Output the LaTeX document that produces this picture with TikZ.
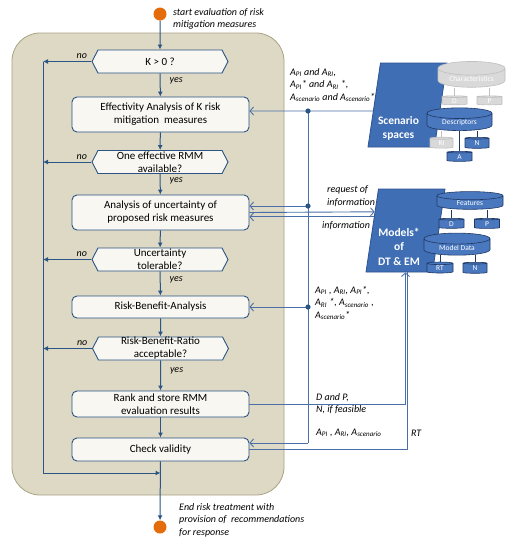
\documentclass[tikz,border=0pt]{standalone}
\usepackage{fontspec}
\setmainfont{Carlito}
\usetikzlibrary{shapes.geometric,shapes.symbols,arrows.meta,calc}
\definecolor{tanfill}{HTML}{DDD9C4}
\definecolor{tanline}{HTML}{A8A283}
\definecolor{boxfill}{HTML}{F8F7F1}
\definecolor{boxline}{HTML}{2B5385}
\definecolor{flowcol}{HTML}{2A5585}
\definecolor{infocol}{HTML}{4A6EA8}
\definecolor{parafill}{HTML}{3F6EB5}
\definecolor{paraline}{HTML}{2F528F}
\definecolor{dbfill}{HTML}{4A78BE}
\definecolor{dbline}{HTML}{203864}
\definecolor{greyfill}{HTML}{D9D9D9}
\definecolor{greyline}{HTML}{BFBFBF}
\definecolor{orangec}{HTML}{E46C0A}

\begin{document}
\begin{tikzpicture}[x=1pt,y=-1pt,
    box/.style={draw=boxline,fill=boxfill,rounded corners=5pt,line width=0.9pt,minimum width=177pt,align=center,inner xsep=2pt,inner ysep=0pt,font=\fontsize{11}{13}\selectfont},
    ask/.style={signal,signal to=east and west,signal pointer angle=125,draw=boxline,fill=boxfill,line width=0.9pt,minimum width=136pt,minimum height=23pt,align=center,inner sep=0pt,font=\fontsize{11}{13}\selectfont},
    flow/.style={draw=flowcol,line width=1pt,-{Latex[length=5pt,width=5pt]}},
    info/.style={draw=infocol,line width=0.9pt,-{Straight Barb[length=3.5pt,width=8pt]}},
    infoline/.style={draw=infocol,line width=0.9pt},
    lbl/.style={font=\fontsize{10}{12.5}\selectfont\itshape,inner sep=0pt,align=left},
    para/.style={trapezium,trapezium left angle=77,trapezium right angle=103,trapezium stretches=true,fill=parafill,draw=paraline,line width=0.8pt,minimum width=79pt,minimum height=84pt,inner sep=3pt},
    paratxt/.style={text=white,font=\fontsize{11.5}{14.5}\selectfont\bfseries,align=center,inner sep=0pt},
    db/.style={cylinder,shape border rotate=90,aspect=0.3,draw=dbline,fill=dbfill,text=white,inner sep=0.5pt,line width=0.6pt,font=\fontsize{7.5}{8}\selectfont},
    dbgrey/.style={db,draw=greyline,fill=greyfill},
  ]
  \useasboundingbox (0,0) rectangle (513,550);
  \draw[draw=tanline,fill=tanfill,line width=0.8pt,rounded corners=28pt] (12,33) rectangle (284,495);

  \node[circle,fill=orangec,minimum size=13pt,inner sep=0pt] (start) at (160,14) {};
  \node[lbl,anchor=west] (starttxt) at (173,19) {start evaluation of risk\\mitigation measures};
  \node[ask] (kpos) at (160,61.5) {K > 0 ?};
  \node[box,minimum height=35pt] (effect) at (160.5,114.5) {Effectivity Analysis of K risk\\mitigation\ \ measures};
  \node[ask] (oneeff) at (160,162) {One effective RMM\\available?};
  \node[box,minimum height=35pt] (uncert) at (160.5,212.5) {Analysis of uncertainty of\\proposed risk measures};
  \node[ask] (toler) at (160,259.5) {Uncertainty\\tolerable?};
  \node[box,minimum height=22pt] (rba) at (160.5,307) {Risk-Benefit-Analysis};
  \node[ask] (ratio) at (160.5,348.5) {Risk-Benefit-Ratio\\acceptable?};
  \node[box,minimum height=26pt] (rank) at (160.5,404) {Rank and store RMM\\evaluation results};
  \node[box,minimum height=23pt] (check) at (160.5,449.5) {Check validity};
  \node[circle,fill=orangec,minimum size=13pt,inner sep=0pt] (endpt) at (160,527) {};
  \node[lbl,anchor=west] (endtxt) at (179,520) {End risk treatment with\\provision of\ \ recommendations\\for response};

  \draw[flow] (start) -- (kpos);
  \foreach \a/\b in {effect/oneeff,uncert/toler,rba/ratio,rank/check}
    \draw[flow] (\a) -- (\b);
  \foreach \a/\b in {kpos/effect,oneeff/uncert,toler/rba,ratio/rank}
    \draw[flow] (\a) -- (\b) node[lbl,pos=0.33,right=9pt] {yes};
  \coordinate (loopx) at (43,473);
  \foreach \n in {kpos,oneeff,toler,ratio}
    \draw[flow] (\n.west) -- (\n.west -| loopx) node[lbl,pos=0.2,above=2pt] {no};
  \draw[flow] (kpos.west -| loopx) -- (loopx) -- (loopx -| check.south);
  \draw[flow] (check) -- (endpt);

  \node[para] (scen) at (407.5,105) {};
  \node[paratxt] (scentxt) at (398.5,128.5) {Scenario\\spaces};
  \node[para,minimum height=83pt] (models) at (405.5,230.5) {};
  \node[paratxt] (modtxt) at (399,246.5) {Models*\\of\\DT \& EM};

  \node[dbgrey,minimum width=67pt,minimum height=17pt] (chars) at (471.5,78.5) {Characteristics};
  \node[dbgrey,minimum width=25pt,minimum height=9pt] (chD) at (454.5,101) {D};
  \node[dbgrey,minimum width=25pt,minimum height=9pt] (chP) at (489.5,101) {P};
  \node[db,minimum width=65pt,minimum height=17pt] (desc) at (459.5,122.5) {Descriptors};
  \node[dbgrey,minimum width=23pt,minimum height=11pt] (dRI) at (441.5,143.5) {RI};
  \node[db,minimum width=24pt,minimum height=11pt] (dN) at (477,143.5) {N};
  \node[db,minimum width=25pt,minimum height=10pt] (dA) at (459.5,157) {A};
  \node[db,minimum width=66pt,minimum height=16pt] (feat) at (470,203) {Features};
  \node[db,minimum width=25pt,minimum height=10pt] (fD) at (451.5,224) {D};
  \node[db,minimum width=25pt,minimum height=10pt] (fP) at (487,224) {P};
  \node[db,minimum width=66pt,minimum height=15pt] (mdata) at (457,247.5) {Model Data};
  \node[db,minimum width=26pt,minimum height=11pt] (mRT) at (440,268.5) {RT};
  \node[db,minimum width=24pt,minimum height=11pt] (mN) at (475,268.5) {N};
  \foreach \c in {chD,chP} \draw[greyline] (\c.north) -- (\c.north |- chars.south);
  \draw[greyline] (dRI.north) -- (dRI.north |- desc.south);
  \foreach \c in {dA,dN} \draw[dbline] (\c.north) -- (\c.north |- desc.south);
  \foreach \c in {fD,fP} \draw[dbline] (\c.north) -- (\c.north |- feat.south);
  \foreach \c in {mRT,mN} \draw[dbline] (\c.north) -- (\c.north |- mdata.south);

  \coordinate (busA) at (308,111);
  \coordinate (busB) at (308,206);
  \coordinate (busC) at (308,307);
  \coordinate (busD) at (308,443);
  \coordinate (scenout) at ($(scen.top left corner)!0.571!(scen.bottom left corner)$);
  \coordinate (reqin) at ($(models.top left corner)!0.277!(models.bottom left corner)$);
  \coordinate (infout) at ($(models.top left corner)!0.337!(models.bottom left corner)$);
  \coordinate (rtout) at ($(models.bottom left corner)!0.62!(models.bottom right corner)$);
  \draw[info] (scenout) -- (effect.east |- busA);
  \draw[infoline] (busA) -- (busD);
  \draw[info] (busB) -- (uncert.east |- busB);
  \draw[info] (busC) -- (rba.east);
  \draw[info] (busD) -- (check.east |- busD);
  \draw[info] (uncert.east) -- (reqin);
  \draw[info] (infout) -- (uncert.east |- infout);
  \draw[info] (rank.east) -| (models.south);
  \draw[infoline] (rtout) |- (check.east);
  \foreach \p in {busA,busB,busC} \fill[flowcol] (\p) circle (2.6pt);

  \node[lbl,anchor=north west] (lblscen) at (290,68) {A\textsubscript{PI} and A\textsubscript{RI},\\A\textsubscript{PI}* and A\textsubscript{RI} *,\\A\textsubscript{scenario} and A\textsubscript{scenario}*};
  \node[lbl,anchor=west] (lblreq) at (327,196) {request of\\information};
  \node[lbl,anchor=west] (lblinfo) at (322,226) {information};
  \node[lbl,anchor=west] (lblrba) at (315,303) {A\textsubscript{PI} , A\textsubscript{RI}, A\textsubscript{PI}*,\\A\textsubscript{RI} *, A\textsubscript{scenario} ,\\A\textsubscript{scenario}*};
  \node[lbl,anchor=west] (lblrank) at (316,403.5) {D and P,\\N, if feasible};
  \node[lbl,anchor=west] (lblcheck) at (316,433) {A\textsubscript{PI} , A\textsubscript{RI}, A\textsubscript{scenario}};
  \node[lbl,anchor=west] (lblrt) at (411,433) {RT};
\end{tikzpicture}
\end{document}
